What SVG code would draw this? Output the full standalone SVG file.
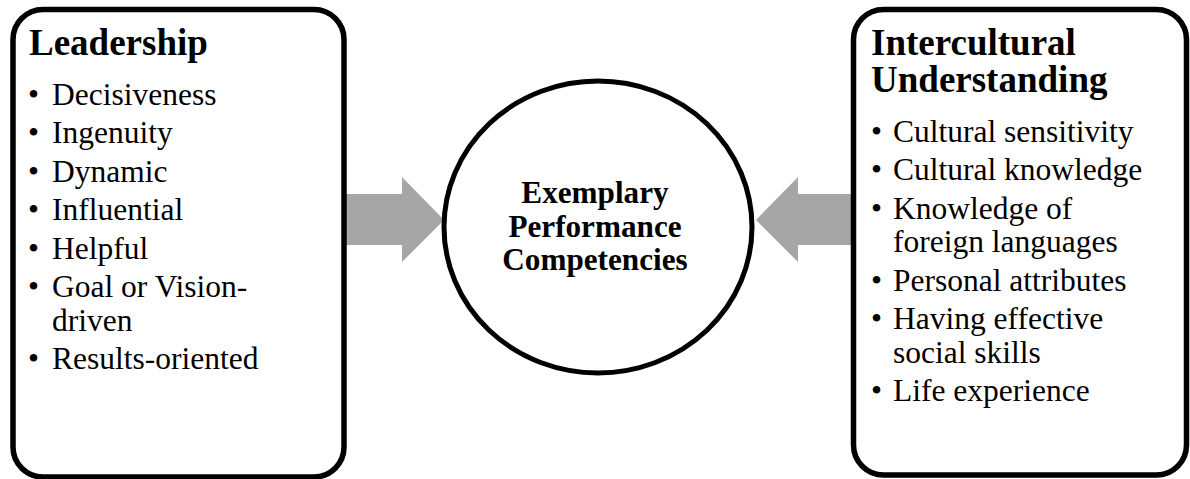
<svg xmlns="http://www.w3.org/2000/svg" width="1190" height="479" viewBox="0 0 1190 479">
<style>
.box{fill:#fff;stroke:#000;stroke-width:5.5}
.circ{fill:#fff;stroke:#000;stroke-width:5}
.arrow{fill:#a6a6a6;stroke:none}
.t{font-family:"Liberation Serif","Times New Roman",serif;fill:#000}
.title{font-size:37px;font-weight:bold}
.item{font-size:31.5px}
.center{font-size:31.2px;font-weight:bold;text-anchor:middle}
</style>
<rect width="1190" height="479" fill="#fff"/>
<g id="connectors">
<path class="arrow" d="M344,194 L402,194 L402,177 L444,220 L402,262 L402,245 L344,245 Z"/>
<path class="arrow" d="M853,194 L798,194 L798,177 L756,220 L798,262 L798,245 L853,245 Z"/>
</g>
<g id="leadership">
<rect class="box" x="13" y="9.5" width="331" height="467.5" rx="30" ry="30"/>
<text class="t title" x="29" y="55">Leadership</text>
<g class="t item">
<text x="28" y="104.5">•</text><text x="52" y="104.5">Decisiveness</text>
<text x="28" y="143">•</text><text x="52" y="143">Ingenuity</text>
<text x="28" y="181.5">•</text><text x="52" y="181.5">Dynamic</text>
<text x="28" y="220">•</text><text x="52" y="220">Influential</text>
<text x="28" y="258.5">•</text><text x="52" y="258.5">Helpful</text>
<text x="28" y="297">•</text><text x="52" y="297">Goal or Vision-<tspan x="52" y="330.5">driven</tspan></text>
<text x="28" y="369">•</text><text x="52" y="369">Results-oriented</text>
</g>
</g>
<g id="exemplary">
<ellipse class="circ" cx="598" cy="227" rx="154" ry="146"/>
<text class="t center" x="595" y="203">Exemplary<tspan x="595" y="236.5">Performance</tspan><tspan x="595" y="270">Competencies</tspan></text>
</g>
<g id="intercultural">
<rect class="box" x="853.5" y="9.5" width="333" height="465.5" rx="30" ry="30"/>
<text class="t title" x="871" y="55">Intercultural<tspan x="871" y="91.5">Understanding</tspan></text>
<g class="t item">
<text x="871" y="141.5">•</text><text x="893" y="141.5">Cultural sensitivity</text>
<text x="871" y="180">•</text><text x="893" y="180">Cultural knowledge</text>
<text x="871" y="218.5">•</text><text x="893" y="218.5">Knowledge of<tspan x="893" y="252">foreign languages</tspan></text>
<text x="871" y="290.5">•</text><text x="893" y="290.5">Personal attributes</text>
<text x="871" y="329">•</text><text x="893" y="329">Having effective<tspan x="893" y="362.5">social skills</tspan></text>
<text x="871" y="401">•</text><text x="893" y="401">Life experience</text>
</g>
</g>
</svg>
